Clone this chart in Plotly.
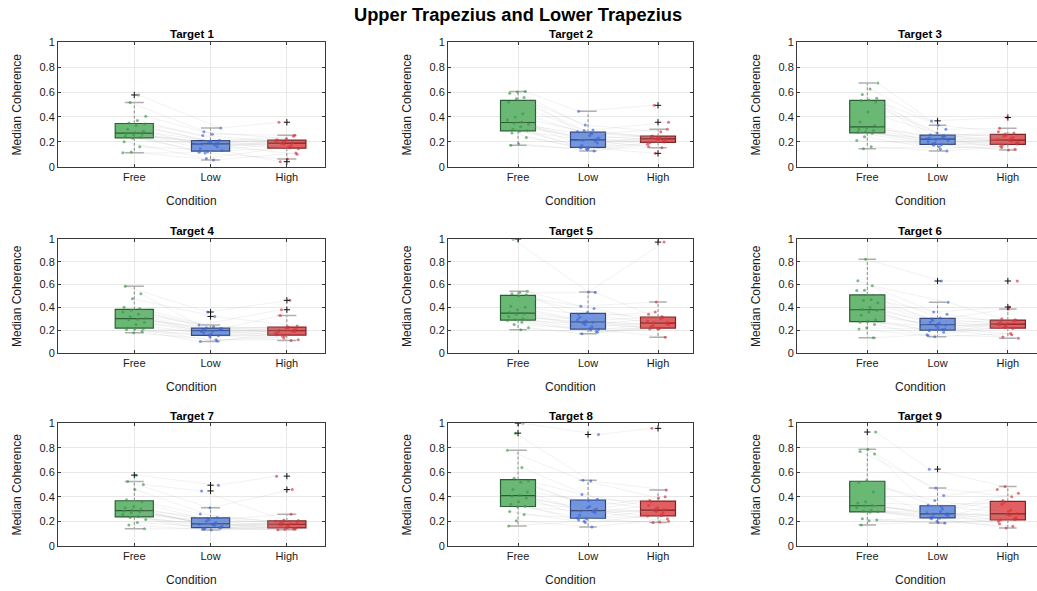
import numpy as np
import plotly.graph_objects as go

conditions = ["Free", "Low", "High"]
target_names = [f"Target {i}" for i in range(1, 10)]

# Median coherence per subject (20 subjects), listed in ascending order per condition
free_t1 = [0.112, 0.118, 0.16, 0.20, 0.228, 0.236, 0.245, 0.255, 0.262, 0.266, 0.274, 0.285, 0.30, 0.33, 0.342, 0.352, 0.372, 0.405, 0.515, 0.576]
low_t1 = [0.053, 0.065, 0.11, 0.115, 0.12, 0.13, 0.145, 0.16, 0.175, 0.182, 0.186, 0.19, 0.198, 0.203, 0.207, 0.213, 0.25, 0.26, 0.28, 0.31]
high_t1 = [0.04, 0.061, 0.10, 0.11, 0.145, 0.153, 0.16, 0.17, 0.18, 0.186, 0.192, 0.197, 0.20, 0.205, 0.21, 0.216, 0.225, 0.245, 0.253, 0.357]

free_t2 = [0.173, 0.185, 0.235, 0.27, 0.285, 0.291, 0.30, 0.32, 0.34, 0.35, 0.36, 0.375, 0.40, 0.425, 0.52, 0.546, 0.555, 0.59, 0.60, 0.605]
low_t2 = [0.125, 0.135, 0.145, 0.15, 0.152, 0.158, 0.17, 0.19, 0.205, 0.212, 0.22, 0.23, 0.25, 0.265, 0.272, 0.282, 0.29, 0.295, 0.335, 0.445]
high_t2 = [0.107, 0.152, 0.16, 0.18, 0.192, 0.198, 0.205, 0.21, 0.218, 0.222, 0.226, 0.23, 0.235, 0.24, 0.243, 0.247, 0.28, 0.30, 0.357, 0.493]

free_t3 = [0.144, 0.16, 0.21, 0.24, 0.268, 0.276, 0.28, 0.29, 0.30, 0.31, 0.33, 0.36, 0.44, 0.52, 0.53, 0.536, 0.55, 0.58, 0.625, 0.672]
low_t3 = [0.125, 0.14, 0.16, 0.172, 0.176, 0.182, 0.19, 0.20, 0.21, 0.218, 0.224, 0.23, 0.24, 0.245, 0.25, 0.256, 0.27, 0.30, 0.333, 0.368]
high_t3 = [0.133, 0.14, 0.155, 0.165, 0.175, 0.183, 0.19, 0.198, 0.205, 0.21, 0.216, 0.225, 0.235, 0.245, 0.255, 0.263, 0.27, 0.28, 0.309, 0.395]

free_t4 = [0.176, 0.19, 0.205, 0.21, 0.215, 0.221, 0.25, 0.27, 0.29, 0.295, 0.305, 0.32, 0.34, 0.36, 0.375, 0.389, 0.40, 0.475, 0.52, 0.585]
low_t4 = [0.10, 0.105, 0.115, 0.14, 0.15, 0.156, 0.165, 0.175, 0.185, 0.19, 0.198, 0.203, 0.208, 0.212, 0.215, 0.221, 0.23, 0.244, 0.32, 0.359]
high_t4 = [0.109, 0.115, 0.13, 0.145, 0.153, 0.159, 0.17, 0.18, 0.188, 0.192, 0.196, 0.20, 0.21, 0.218, 0.223, 0.229, 0.235, 0.329, 0.379, 0.462]

free_t5 = [0.203, 0.22, 0.25, 0.27, 0.285, 0.291, 0.30, 0.32, 0.34, 0.345, 0.355, 0.38, 0.40, 0.41, 0.50, 0.512, 0.52, 0.53, 0.541, 1.0]
low_t5 = [0.168, 0.18, 0.19, 0.20, 0.206, 0.212, 0.23, 0.25, 0.26, 0.268, 0.274, 0.28, 0.29, 0.31, 0.34, 0.354, 0.39, 0.41, 0.53, 0.535]
high_t5 = [0.138, 0.21, 0.212, 0.215, 0.216, 0.22, 0.23, 0.24, 0.25, 0.258, 0.266, 0.27, 0.28, 0.30, 0.31, 0.32, 0.34, 0.36, 0.447, 0.974]

free_t6 = [0.132, 0.21, 0.22, 0.25, 0.27, 0.278, 0.29, 0.33, 0.36, 0.375, 0.383, 0.40, 0.44, 0.46, 0.47, 0.548, 0.55, 0.59, 0.635, 0.824]
low_t6 = [0.141, 0.15, 0.16, 0.18, 0.195, 0.205, 0.21, 0.22, 0.235, 0.244, 0.25, 0.26, 0.27, 0.285, 0.30, 0.306, 0.34, 0.36, 0.444, 0.632]
high_t6 = [0.129, 0.14, 0.16, 0.17, 0.215, 0.221, 0.23, 0.24, 0.245, 0.25, 0.256, 0.26, 0.27, 0.28, 0.285, 0.291, 0.30, 0.385, 0.403, 0.632]

free_t7 = [0.14, 0.17, 0.19, 0.215, 0.232, 0.24, 0.255, 0.27, 0.28, 0.285, 0.291, 0.30, 0.31, 0.32, 0.36, 0.376, 0.46, 0.50, 0.525, 0.577]
low_t7 = [0.129, 0.135, 0.14, 0.145, 0.146, 0.15, 0.16, 0.168, 0.175, 0.177, 0.181, 0.19, 0.20, 0.21, 0.225, 0.231, 0.26, 0.31, 0.448, 0.495]
high_t7 = [0.132, 0.135, 0.138, 0.14, 0.144, 0.148, 0.155, 0.165, 0.17, 0.174, 0.178, 0.185, 0.19, 0.195, 0.20, 0.206, 0.21, 0.258, 0.459, 0.569]

free_t8 = [0.162, 0.205, 0.255, 0.28, 0.318, 0.324, 0.34, 0.36, 0.39, 0.405, 0.413, 0.44, 0.46, 0.52, 0.53, 0.552, 0.64, 0.78, 0.92, 1.0]
low_t8 = [0.154, 0.19, 0.20, 0.21, 0.222, 0.228, 0.25, 0.27, 0.28, 0.285, 0.291, 0.30, 0.31, 0.32, 0.368, 0.38, 0.42, 0.53, 0.536, 0.909]
high_t8 = [0.19, 0.195, 0.20, 0.22, 0.243, 0.247, 0.25, 0.27, 0.28, 0.288, 0.294, 0.30, 0.31, 0.33, 0.36, 0.37, 0.39, 0.40, 0.456, 0.959]

free_t9 = [0.17, 0.205, 0.21, 0.22, 0.275, 0.279, 0.285, 0.29, 0.31, 0.325, 0.329, 0.35, 0.36, 0.44, 0.52, 0.534, 0.75, 0.77, 0.788, 0.929]
low_t9 = [0.187, 0.19, 0.20, 0.22, 0.226, 0.23, 0.235, 0.245, 0.255, 0.259, 0.263, 0.27, 0.28, 0.30, 0.32, 0.334, 0.37, 0.41, 0.472, 0.626]
high_t9 = [0.146, 0.16, 0.18, 0.20, 0.21, 0.214, 0.22, 0.23, 0.25, 0.258, 0.264, 0.28, 0.29, 0.34, 0.355, 0.371, 0.40, 0.43, 0.46, 0.484]

# Rank of each subject (ordered by Free) within the Low and High lists
low_rank = [2, 0, 5, 1, 8, 3, 4, 10, 6, 12, 7, 9, 14, 11, 16, 13, 15, 18, 17, 19]
high_rank = [1, 3, 0, 6, 2, 9, 5, 4, 11, 7, 13, 8, 10, 15, 12, 17, 14, 16, 18, 19]

y_ticks = [0, 0.2, 0.4, 0.6, 0.8, 1]
y_tick_labels = ["0", "0.2", "0.4", "0.6", "0.8", "1"]

data = [
    (free_t1, low_t1, high_t1), (free_t2, low_t2, high_t2), (free_t3, low_t3, high_t3),
    (free_t4, low_t4, high_t4), (free_t5, low_t5, high_t5), (free_t6, low_t6, high_t6),
    (free_t7, low_t7, high_t7), (free_t8, low_t8, high_t8), (free_t9, low_t9, high_t9),
]

# ---- styling ----
W, H = 1037, 591
FONT = "Liberation Sans, Arial, Helvetica, sans-serif"
fills = ["rgba(92,178,104,0.92)", "rgba(99,139,224,0.92)", "rgba(224,80,82,0.92)"]
edges = ["#2b5e32", "#27407e", "#7e2224"]
dots = ["rgba(55,150,70,0.65)", "rgba(60,100,215,0.65)", "rgba(215,50,55,0.65)"]

col_px = [(58, 325), (448, 693), (797, 1043)]
row_px = [(37, 164), (238, 354), (426, 551)]


def px_x(v):
    return v / W


def px_y(v):
    return 1 - v / H


def jitter(s, c, t):
    return ((s * 7 + c * 5 + t * 3) % 20) / 19 * 0.3 - 0.15


def box_stats(vals):
    v = np.asarray(vals, dtype=float)
    q1, med, q3 = np.percentile(v, [25, 50, 75], method="hazen")
    iqr = q3 - q1
    inside = v[(v >= q1 - 1.5 * iqr) & (v <= q3 + 1.5 * iqr)]
    outl = v[(v < q1 - 1.5 * iqr) | (v > q3 + 1.5 * iqr)]
    return q1, med, q3, inside.min(), inside.max(), outl


fig = go.Figure()
annotations = []

for k, groups in enumerate(data):
    r, c = divmod(k, 3)
    suffix = "" if k == 0 else str(k + 1)
    xa, ya = "x" + suffix, "y" + suffix
    n = len(groups[0])

    # subject values in subject order
    per_cond = [
        list(groups[0]),
        [groups[1][low_rank[s]] for s in range(n)],
        [groups[2][high_rank[s]] for s in range(n)],
    ]
    xs = [[ci + 1 + jitter(s, ci, k) for s in range(n)] for ci in range(3)]

    # connecting lines for each subject
    lx, ly = [], []
    for s in range(n):
        for ci in range(3):
            lx.append(xs[ci][s])
            ly.append(per_cond[ci][s])
        lx.append(None)
        ly.append(None)
    fig.add_trace(go.Scatter(x=lx, y=ly, mode="lines", xaxis=xa, yaxis=ya,
                             line=dict(color="rgba(165,165,165,0.25)", width=0.6),
                             hoverinfo="skip", showlegend=False))

    for ci in range(3):
        q1, med, q3, lo, hi, outl = box_stats(per_cond[ci])
        xc = ci + 1
        # whiskers (dashed) and caps
        fig.add_trace(go.Scatter(x=[xc, xc, None, xc, xc], y=[q1, lo, None, q3, hi],
                                 mode="lines", xaxis=xa, yaxis=ya,
                                 line=dict(color="#8c8c8c", width=1, dash="3px,2px"),
                                 hoverinfo="skip", showlegend=False))
        fig.add_trace(go.Scatter(x=[xc - 0.125, xc + 0.125, None, xc - 0.125, xc + 0.125],
                                 y=[lo, lo, None, hi, hi], mode="lines", xaxis=xa, yaxis=ya,
                                 line=dict(color="#b0b0b0", width=1.5),
                                 hoverinfo="skip", showlegend=False))
        # box
        fig.add_trace(go.Box(x=[xc], q1=[q1], median=[med], q3=[q3],
                             lowerfence=[q1], upperfence=[q3], width=0.5,
                             fillcolor=fills[ci], line=dict(color=edges[ci], width=1.2),
                             boxpoints=False, xaxis=xa, yaxis=ya,
                             hoverinfo="skip", showlegend=False))
        # jittered subject points
        fig.add_trace(go.Scatter(x=xs[ci], y=per_cond[ci], mode="markers", xaxis=xa, yaxis=ya,
                                 marker=dict(size=3, color=dots[ci]),
                                 hoverinfo="skip", showlegend=False))
        # outliers
        if len(outl):
            fig.add_trace(go.Scatter(x=[xc] * len(outl), y=list(outl), mode="markers",
                                     xaxis=xa, yaxis=ya,
                                     marker=dict(symbol="cross-thin", size=4.5,
                                                 line=dict(color="#111111", width=1)),
                                     hoverinfo="skip", showlegend=False))

    left, right = col_px[c]
    top, bottom = row_px[r]
    vis_right = min(right, W)
    xmax = 3.5 * (vis_right - left) / (right - left)
    axis_style = dict(showline=True, linecolor="#3a3a3a", linewidth=1,
                      ticks="inside", ticklen=3, tickcolor="#3a3a3a",
                      showgrid=True, gridcolor="#e8e8e8", gridwidth=1,
                      zeroline=False,
                      tickfont=dict(family=FONT, size=11, color="#1a1a1a"))
    fig.layout["xaxis" + suffix] = dict(
        axis_style, domain=[px_x(left), px_x(vis_right)], range=[0, xmax],
        anchor=ya, tickmode="array", tickvals=[1, 2, 3], ticktext=conditions,
        mirror="ticks")
    fig.layout["yaxis" + suffix] = dict(
        axis_style, domain=[px_y(bottom), px_y(top)], range=[0, 1],
        anchor=xa, tickmode="array", tickvals=y_ticks, ticktext=y_tick_labels,
        mirror="ticks" if right <= W else False)

    cx = (left + right) / 2
    annotations.append(dict(text=f"<b>{target_names[k]}</b>", x=px_x(cx), y=px_y(top - 8),
                            xref="paper", yref="paper", showarrow=False,
                            xanchor="center", yanchor="middle",
                            font=dict(family=FONT, size=11.5, color="#000")))
    annotations.append(dict(text="Condition", x=px_x(cx), y=px_y(bottom + 35),
                            xref="paper", yref="paper", showarrow=False,
                            xanchor="center", yanchor="middle",
                            font=dict(family=FONT, size=12, color="#1a1a1a")))
    annotations.append(dict(text="Median Coherence", x=px_x(left - 41), y=px_y((top + bottom) / 2),
                            xref="paper", yref="paper", showarrow=False, textangle=-90,
                            xanchor="center", yanchor="middle",
                            font=dict(family=FONT, size=12, color="#1a1a1a")))

annotations.append(dict(text="<b>Upper Trapezius and Lower Trapezius</b>", x=px_x(518), y=px_y(9),
                        xref="paper", yref="paper", showarrow=False,
                        xanchor="center", yanchor="middle",
                        font=dict(family=FONT, size=18.3, color="#000")))

fig.update_layout(width=W, height=H, margin=dict(l=0, r=0, t=0, b=0),
                  paper_bgcolor="white", plot_bgcolor="white",
                  annotations=annotations, showlegend=False, boxmode="overlay")

fig.write_html("out.html")
